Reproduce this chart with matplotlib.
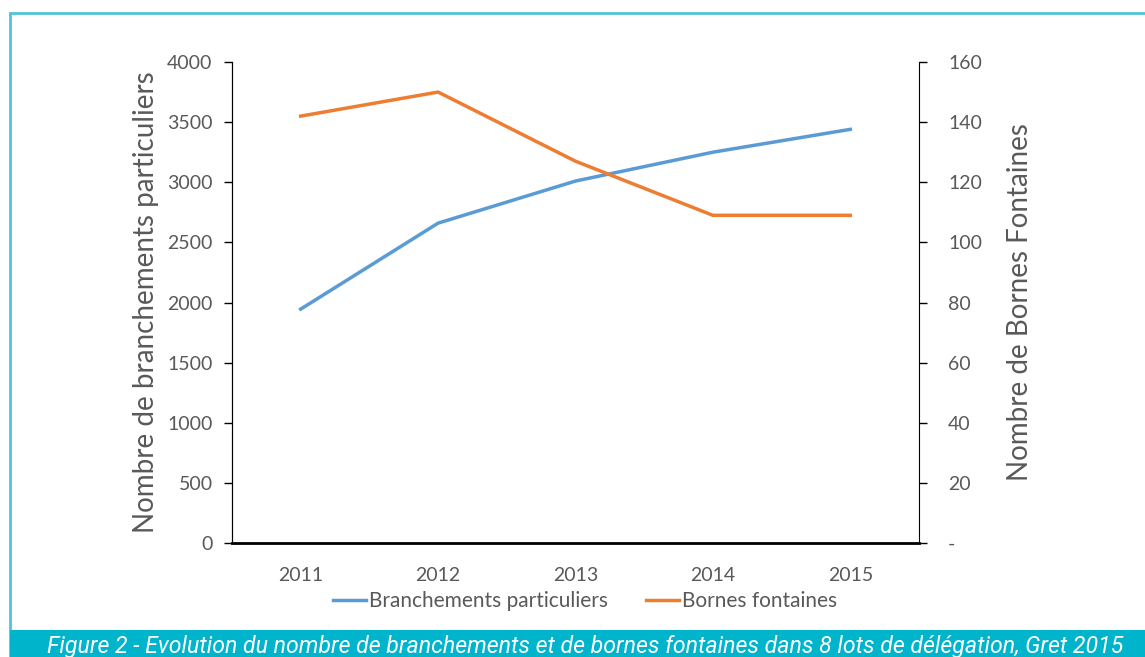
import matplotlib.pyplot as plt
from matplotlib.patches import Rectangle

years = ["2011", "2012", "2013", "2014", "2015"]
branchements = [1945, 2660, 3010, 3250, 3440]
bornes = [142, 150, 127, 109, 109]

left_ticks = [0, 500, 1000, 1500, 2000, 2500, 3000, 3500, 4000]
right_ticks = [0, 20, 40, 60, 80, 100, 120, 140, 160]
right_labels = ["-", "20", "40", "60", "80", "100", "120", "140", "160"]

caption = ("Figure 2 - Evolution du nombre de branchements et de bornes "
           "fontaines dans 8 lots de délégation, Gret 2015")

BLUE = "#5b9bd5"
ORANGE = "#ed7d31"
TEAL = "#00b4cc"
GREY = "#595959"

plt.rcParams["font.family"] = ["Lato", "DejaVu Sans"]

fig = plt.figure(figsize=(11.45, 6.57), dpi=100)

# frame and caption band
fig.patches.append(Rectangle((10 / 1145, 0), 1.0, (657 - 13) / 657, transform=fig.transFigure,
                             fill=False, edgecolor="#4fc3dc", linewidth=2))
fig.patches.append(Rectangle((10 / 1145, 0), 1.0, 27 / 657, transform=fig.transFigure,
                             facecolor=TEAL, edgecolor="none"))
fig.text(585 / 1145, 11 / 657, caption, color="white", style="italic", fontsize=16.7,
         ha="center", va="center", family=["Roboto", "DejaVu Sans"])

ax = fig.add_axes([232 / 1145, (657 - 543) / 657, (919 - 232) / 1145, (543 - 62) / 657])
ax2 = ax.twinx()

x = range(len(years))
l1, = ax.plot(x, branchements, color=BLUE, linewidth=2.5, label="Branchements particuliers")
l2, = ax2.plot(x, bornes, color=ORANGE, linewidth=2.5, label="Bornes fontaines")

ax.set_xlim(-0.5, len(years) - 0.5)
ax.set_ylim(0, 4000)
ax2.set_ylim(0, 160)
ax.set_xticks(list(x))
ax.set_xticklabels(years)
ax.set_yticks(left_ticks)
ax2.set_yticks(right_ticks)
ax2.set_yticklabels(right_labels)

for a in (ax, ax2):
    a.spines["top"].set_visible(False)
    a.tick_params(colors=GREY, labelsize=14, length=6, width=1, labelcolor=GREY)
ax.tick_params(axis="x", length=0, pad=17)
ax.tick_params(axis="y", pad=8, color="black")
ax2.tick_params(axis="y", pad=15, color="black")
ax.spines["bottom"].set_linewidth(2)
ax2.spines["bottom"].set_visible(False)
ax.spines["right"].set_visible(False)

ax.set_ylabel("Nombre de branchements particuliers", fontsize=20, color=GREY, labelpad=6)
ax2.set_ylabel("Nombre de Bornes Fontaines", fontsize=20, color=GREY, labelpad=18)

fig.legend([l1, l2], [l1.get_label(), l2.get_label()], loc="center",
           bbox_to_anchor=(585 / 1145, (657 - 601) / 657), ncol=2, frameon=False,
           fontsize=15, labelcolor=GREY, handlelength=1.6, handletextpad=0.15, columnspacing=1.8)

fig.savefig("out.png", dpi=100)
